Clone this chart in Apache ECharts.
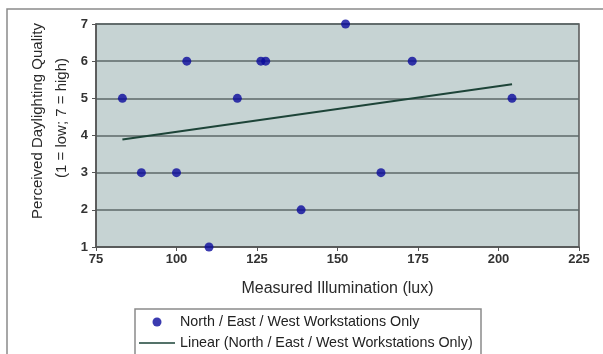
<!DOCTYPE html>
<html>
<head>
<meta charset="utf-8">
<script src="https://cdn.jsdelivr.net/npm/echarts@6/dist/echarts.min.js"></script>
<style>html,body{margin:0;padding:0;background:#fff;}#c{width:603px;height:354px;}</style>
</head>
<body>
<div id="c"></div>
<script>
// Measured illumination (lux) for each workstation
const illumination = [83.2, 89.1, 100.0, 103.2, 110.1, 118.9, 126.2, 127.7, 138.7, 152.5, 163.5, 173.2, 204.2];
// Perceived daylighting quality (1 = low; 7 = high)
const quality = [5, 3, 3, 6, 1, 5, 6, 6, 2, 7, 3, 6, 5];
// Linear trendline endpoints
const trendX = [83.2, 204.2];
const trendY = [3.89, 5.38];
const seriesNames = ['North / East / West Workstations Only', 'Linear (North / East / West Workstations Only)'];
const xTitle = 'Measured Illumination (lux)';
const yTitle = ['Perceived Daylighting Quality', '(1 = low; 7 = high)'];

const scatterData = illumination.map((x, i) => [x, quality[i]]);
const trendData = trendX.map((x, i) => [x, trendY[i]]);

const FONT = '"Liberation Sans", Arial, sans-serif';
const yTitleStyle = { fontFamily: FONT, fontSize: 15, fill: '#2a2a2a', align: 'center', verticalAlign: 'middle' };
const chart = echarts.init(document.getElementById('c'));
chart.setOption({
  animation: false,
  backgroundColor: '#ffffff',
  graphic: [
    { type: 'rect', shape: { x: 7, y: 9, width: 610, height: 360 }, style: { fill: 'none', stroke: '#8a8a8a', lineWidth: 1.5 }, z: 0 },
    { type: 'rect', shape: { x: 135, y: 309, width: 346, height: 60 }, style: { fill: '#fff', stroke: '#8a8a8a', lineWidth: 1.5 }, z: 0 },
    { type: 'text', x: 38, y: 121, rotation: Math.PI / 2, style: Object.assign({ text: yTitle[0] }, yTitleStyle), z: 5 },
    { type: 'text', x: 62, y: 118, rotation: Math.PI / 2, style: Object.assign({ text: yTitle[1] }, yTitleStyle), z: 5 }
  ],
  grid: {
    left: 96, right: 24, top: 24, bottom: 107,
    show: true, backgroundColor: '#c6d3d3', borderColor: '#555', borderWidth: 1.5
  },
  xAxis: {
    type: 'value', min: 75, max: 225, interval: 25,
    name: xTitle, nameLocation: 'middle', nameGap: 34,
    nameTextStyle: { fontFamily: FONT, fontSize: 16, color: '#2a2a2a' },
    axisLine: { show: true, lineStyle: { color: '#555', width: 1.5 } },
    axisTick: { show: true, length: 4, lineStyle: { color: '#555' } },
    axisLabel: { fontFamily: FONT, fontSize: 13, fontWeight: 'bold', color: '#333', margin: 6 },
    splitLine: { show: false }
  },
  yAxis: {
    type: 'value', min: 1, max: 7, interval: 1,
    axisLine: { show: true, lineStyle: { color: '#555', width: 1.5 } },
    axisTick: { show: true, length: 4, lineStyle: { color: '#555' } },
    axisLabel: { fontFamily: FONT, fontSize: 13, fontWeight: 'bold', color: '#333', margin: 8 },
    splitLine: { show: true, lineStyle: { color: '#5d6868', width: 1.5 } }
  },
  legend: {
    orient: 'vertical', left: 134, top: 310, height: 200, itemWidth: 36, itemHeight: 9, itemGap: 7,
    textStyle: { fontFamily: FONT, fontSize: 14.3, color: '#222' },
    data: [
      { name: seriesNames[0], icon: 'circle' },
      { name: seriesNames[1], icon: 'path://M0,0L0,9M0,3.8H36V5.2H0Z' }
    ]
  },
  series: [
    {
      name: seriesNames[0], type: 'scatter', data: scatterData,
      symbol: 'circle', symbolSize: 9, itemStyle: { color: '#0a0a9c' }, z: 3
    },
    {
      name: seriesNames[1], type: 'line', data: trendData,
      symbol: 'none', lineStyle: { color: '#1d4438', width: 2 }, itemStyle: { color: '#1d4438' }, z: 2
    }
  ]
});
</script>
</body>
</html>
